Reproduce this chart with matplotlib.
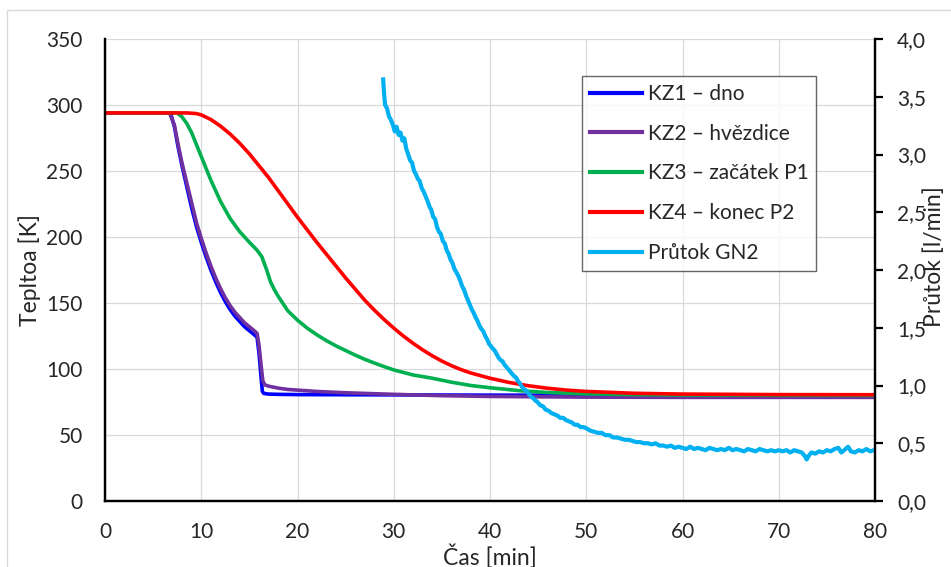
import numpy as np
import matplotlib
matplotlib.use("Agg")
import matplotlib.pyplot as plt
from matplotlib.ticker import FuncFormatter, MultipleLocator
from matplotlib.patches import Rectangle

plt.rcParams['font.family'] = ['Lato', 'DejaVu Sans']

# KZ1 - dno
t_kz1 = [0, 6.8, 7.2, 7.6, 8.0, 8.5, 9.0, 9.5, 10.0, 10.5, 11.0, 11.5, 12.0, 12.5, 13.0, 13.5,
         14.0, 14.5, 15.0, 15.5, 15.8, 16.0, 16.2, 16.35, 16.5, 17.0, 18.0, 20.0, 25.0, 30.0,
         40.0, 50.0, 60.0, 70.0, 80.0]
T_kz1 = [294, 294, 284, 268, 254, 238, 222, 208, 196, 185, 175, 166, 158, 151, 145, 140,
         136, 132, 129, 126, 124, 112, 95, 83, 81.5, 81, 80.8, 80.6, 80.5, 80.4,
         80.2, 80.1, 80, 80, 80]

# KZ2 - hvezdice
t_kz2 = [0, 6.7, 7.2, 7.6, 8.0, 8.5, 9.0, 9.5, 10.0, 10.5, 11.0, 11.5, 12.0, 12.5, 13.0, 13.5,
         14.0, 14.5, 15.0, 15.5, 15.8, 16.0, 16.2, 16.4, 16.6, 17.0, 18.0, 19.0, 20.0, 22.0,
         25.0, 30.0, 35.0, 40.0, 50.0, 60.0, 70.0, 80.0]
T_kz2 = [294, 294, 285, 270, 256, 241, 226, 211, 199, 188, 178, 169, 161, 154, 148, 143,
         139, 135, 132, 129, 127, 118, 104, 91, 88, 87, 85.5, 84.5, 84, 83,
         82, 80.8, 79.8, 79.2, 78.7, 78.5, 78.5, 78.5]

# KZ3 - zacatek P1
t_kz3 = [0, 7.5, 8.0, 8.5, 9.0, 9.5, 10.0, 11.0, 12.0, 13.0, 14.0, 15.0, 15.8, 16.3, 16.8,
         17.2, 17.6, 18.0, 19.0, 20.0, 21.0, 22.0, 23.0, 24.0, 25.0, 26.0, 27.0, 28.0, 29.0,
         30.0, 32.0, 34.0, 36.0, 38.0, 40.0, 43.0, 46.0, 50.0, 55.0, 60.0, 70.0, 80.0]
T_kz3 = [294, 294, 291, 286, 279, 270, 261, 243, 227, 214, 204, 196, 190, 185, 175,
         166, 160, 155, 144, 137, 131, 126, 121.5, 117.5, 114, 110.5, 107.3, 104.5, 101.8,
         99.3, 95.5, 93, 90, 87.5, 85.8, 83.6, 82.2, 81.2, 80.6, 80.3, 80.1, 80]

# KZ4 - konec P2
t_kz4 = [0, 8.5, 9.5, 10.0, 11.0, 12.0, 13.0, 14.0, 15.0, 16.0, 17.0, 18.0, 19.0, 20.0,
         21.0, 22.0, 23.0, 24.0, 25.0, 26.0, 27.0, 28.0, 29.0, 30.0, 31.0, 32.0, 33.0, 34.0,
         35.0, 36.0, 37.0, 38.0, 40.0, 42.0, 44.0, 46.0, 48.0, 50.0, 55.0, 60.0, 70.0, 80.0]
T_kz4 = [294, 294, 293.5, 292.5, 289, 284, 278, 271, 263, 254, 245, 235, 225, 215,
         205.5, 196, 187, 178, 169, 160.5, 152, 144.5, 137.5, 131, 125, 119.5, 114.5, 110,
         106, 102.5, 99.5, 97, 93, 89.8, 87.3, 85.4, 84, 83, 81.6, 81, 80.6, 80.5]

# Prutok GN2 [l/min]
t_gn2 = [28.9, 29.0, 29.1, 29.3, 29.5, 29.7, 29.9, 30.1, 30.3, 30.5, 30.7, 30.9, 31.1, 31.3,
         31.5, 31.7, 31.9, 32.1, 32.3, 32.5, 32.7, 32.9, 33.1, 33.3, 33.5, 33.7, 33.9, 34.1,
         34.3, 34.5, 34.7, 34.9, 35.1, 35.3, 35.5, 35.7, 35.9, 36.1, 36.3, 36.5, 36.7, 36.9,
         37.1, 37.3, 37.5, 37.7, 37.9, 38.1, 38.3, 38.5, 38.7, 38.9, 39.1, 39.3, 39.5, 39.7,
         39.9, 40.1, 40.3, 40.5, 40.7, 40.9, 41.1, 41.3, 41.5, 41.7, 41.9, 42.1, 42.3, 42.5,
         42.7, 42.9, 43.1, 43.3, 43.5, 43.7, 43.9, 44.1, 44.3, 44.5, 44.7, 44.9, 45.2, 45.5,
         45.8, 46.1, 46.4, 46.7, 47.0, 47.3, 47.6, 47.9, 48.2, 48.5, 48.8, 49.1, 49.4, 49.7,
         50.0, 50.4, 50.8, 51.2, 51.6, 52.0, 52.4, 52.8, 53.2, 53.6, 54.0, 54.4, 54.8, 55.2,
         55.6, 56.0, 56.4, 56.8, 57.2, 57.6, 58.0, 58.4, 58.8, 59.2, 59.6, 60.0, 60.4, 60.8,
         61.2, 61.6, 62.0, 62.4, 62.8, 63.2, 63.6, 64.0, 64.4, 64.8, 65.2, 65.6, 66.0, 66.4,
         66.8, 67.2, 67.6, 68.0, 68.4, 68.8, 69.2, 69.6, 70.0, 70.4, 70.8, 71.2, 71.6, 72.0,
         72.4, 72.7, 72.9, 73.1, 73.4, 73.8, 74.2, 74.6, 75.0, 75.4, 75.8, 76.2, 76.5, 76.8,
         77.2, 77.5, 77.9, 78.3, 78.7, 79.1, 79.5, 79.9]
F_gn2 = [3.65, 3.52, 3.43, 3.40, 3.33, 3.30, 3.26, 3.20, 3.24, 3.17, 3.19, 3.12, 3.14, 3.05,
         3.00, 2.95, 2.93, 2.86, 2.83, 2.79, 2.77, 2.71, 2.68, 2.64, 2.60, 2.55, 2.52, 2.46,
         2.44, 2.37, 2.33, 2.31, 2.25, 2.23, 2.17, 2.14, 2.09, 2.06, 2.01, 1.98, 1.95, 1.91,
         1.86, 1.83, 1.78, 1.74, 1.70, 1.66, 1.63, 1.59, 1.56, 1.52, 1.49, 1.47, 1.43, 1.40,
         1.36, 1.34, 1.32, 1.30, 1.27, 1.24, 1.22, 1.21, 1.18, 1.16, 1.14, 1.12, 1.10, 1.08,
         1.07, 1.04, 1.02, 0.99, 0.97, 0.96, 0.94, 0.92, 0.90, 0.89, 0.87, 0.86, 0.83, 0.82,
         0.79, 0.78, 0.76, 0.75, 0.74, 0.72, 0.72, 0.70, 0.69, 0.68, 0.66, 0.66, 0.64, 0.64,
         0.63, 0.61, 0.60, 0.59, 0.59, 0.57, 0.57, 0.55, 0.55, 0.54, 0.53, 0.53, 0.52, 0.51,
         0.51, 0.50, 0.50, 0.49, 0.50, 0.48, 0.48, 0.47, 0.48, 0.46, 0.47, 0.46, 0.45, 0.47,
         0.45, 0.46, 0.45, 0.44, 0.46, 0.45, 0.44, 0.45, 0.44, 0.46, 0.44, 0.45, 0.44, 0.43,
         0.45, 0.44, 0.43, 0.45, 0.44, 0.43, 0.44, 0.43, 0.44, 0.43, 0.44, 0.42, 0.44, 0.43,
         0.42, 0.39, 0.36, 0.39, 0.42, 0.41, 0.43, 0.42, 0.44, 0.43, 0.45, 0.46, 0.42, 0.44,
         0.47, 0.43, 0.42, 0.44, 0.43, 0.45, 0.43, 0.44]

fs = 15
W, H = 951, 567

fig = plt.figure(figsize=(W / 100, H / 100), dpi=100)
# light chart-area border (cropped at right and bottom)
border = Rectangle((7.3 / W, -0.1), 2, 1.1 - 10 / H, transform=fig.transFigure,
                   facecolor='white', edgecolor='#d9d9d9', linewidth=1, zorder=-10)
fig.patches.append(border)

ax = fig.add_axes([105 / W, 1 - 501 / H, 770 / W, 462 / H])
ax2 = ax.twinx()
ax.patch.set_alpha(0)

l1, = ax.plot(t_kz1, T_kz1, color='#0000ff', lw=2.6, label='KZ1 – dno')
l2, = ax.plot(t_kz2, T_kz2, color='#7030a0', lw=2.6, label='KZ2 – hvězdice')
l3, = ax.plot(t_kz3, T_kz3, color='#00b050', lw=2.6, label='KZ3 – začátek P1')
l4, = ax.plot(t_kz4, T_kz4, color='#ff0000', lw=2.6, label='KZ4 – konec P2')
l5, = ax2.plot(t_gn2, F_gn2, color='#00b0f0', lw=3.0, label='Průtok GN2')

ax.set_xlim(0, 80)
ax.set_ylim(0, 350)
ax2.set_ylim(0, 4)
ax.xaxis.set_major_locator(MultipleLocator(10))
ax.yaxis.set_major_locator(MultipleLocator(50))
ax2.yaxis.set_major_locator(MultipleLocator(0.5))
ax2.yaxis.set_major_formatter(FuncFormatter(lambda v, p: ('%.1f' % v).replace('.', ',')))

ax.grid(True, color='#d9d9d9', lw=0.9)
ax.set_axisbelow(True)

for a in (ax, ax2):
    a.spines['top'].set_visible(False)
    for s in ('left', 'right', 'bottom'):
        a.spines[s].set_linewidth(1.6)
        a.spines[s].set_color('black')

ax.tick_params(axis='x', length=0, pad=15, labelsize=fs, colors='#262626')
ax.tick_params(axis='y', length=0, pad=16, labelsize=fs, colors='#262626')
ax2.tick_params(axis='y', length=6, width=1.6, pad=10, labelsize=fs, colors='black',
                labelcolor='#262626')

ax.set_xlabel('Čas [min]', fontsize=16.5, color='#262626')
ax.xaxis.set_label_coords(0.5, -0.094)
ax.set_ylabel('Tepltoa [K]', fontsize=16.5, color='#262626')
ax.yaxis.set_label_coords(-0.083, 0.5)
ax2.set_ylabel('Průtok [l/min]', fontsize=16.5, color='#262626')
ax2.yaxis.set_label_coords(1.063, 0.53)

leg = ax2.legend(handles=[l1, l2, l3, l4, l5], loc='upper left', bbox_to_anchor=(0.619, 0.92),
                 borderaxespad=0, fontsize=15, frameon=True, fancybox=False,
                 handlelength=2.5, handletextpad=0.29, borderpad=0.38, labelspacing=0.95)
leg.get_frame().set_edgecolor('#404040')
leg.get_frame().set_linewidth(1.0)
for txt in leg.get_texts():
    txt.set_color('#262626')
for h in leg.legend_handles:
    h.set_linewidth(3.0)

plt.savefig('out.png', dpi=100)
